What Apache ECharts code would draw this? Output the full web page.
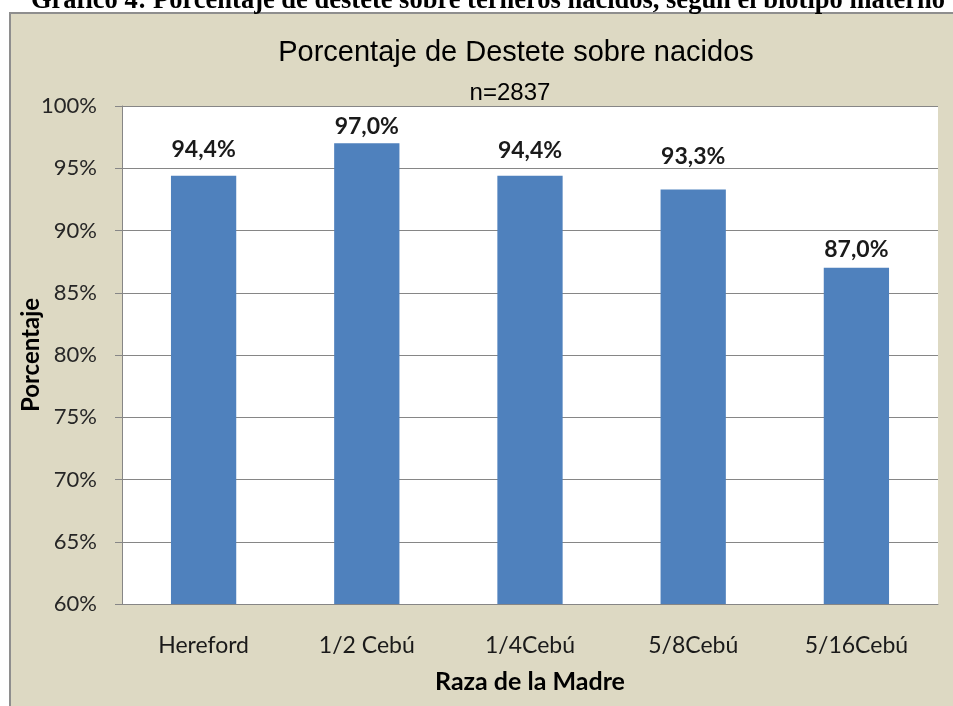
<!DOCTYPE html>
<html>
<head>
<meta charset="utf-8">
<script src="https://cdn.jsdelivr.net/npm/echarts@6/dist/echarts.min.js"></script>
<style>
html, body { margin: 0; padding: 0; background: #ffffff; }
#main { width: 953px; height: 706px; }
</style>
</head>
<body>
<div id="main"></div>
<script>
var categories = ['Hereford', '1/2 Cebú', '1/4Cebú', '5/8Cebú', '5/16Cebú'];
var destete = [94.4, 97.0, 94.4, 93.3, 87.0];
var yMin = 60, yMax = 100, yStep = 5;
var caption = 'Gráfico 4: Porcentaje de destete sobre terneros nacidos, según el biotipo materno';
var chartTitle = 'Porcentaje de Destete sobre nacidos';
var chartSubtitle = 'n=2837';

// labels were nudged by hand in the original, so keep their gaps per bar
var labelGap = [15, 5.5, 14, 21.5, 6.5];

var chart = echarts.init(document.getElementById('main'), null, {renderer: 'canvas'});

var barData = destete.map(function (v, i) {
  return {value: v, label: {distance: labelGap[i]}};
});

var option = {
  animation: false,
  backgroundColor: '#ffffff',
  graphic: [
    {
      type: 'rect', z: -10, silent: true,
      shape: {x: 10, y: 13, width: 980, height: 740},
      style: {fill: '#ddd9c3', stroke: '#8e8e8e', lineWidth: 2}
    },
    {
      type: 'text', z: 10, silent: true,
      x: 488, y: 1,
      style: {
        text: caption, fill: '#000000', align: 'center', verticalAlign: 'middle',
        font: 'bold 26.5px "Liberation Serif", "DejaVu Serif", serif'
      }
    },
    {
      type: 'text', z: 10, silent: true,
      x: 516, y: 53,
      style: {
        text: chartTitle, fill: '#000000', align: 'center', verticalAlign: 'middle',
        font: '29px "Liberation Sans", Arial, sans-serif'
      }
    },
    {
      type: 'text', z: 10, silent: true,
      x: 510, y: 93,
      style: {
        text: chartSubtitle, fill: '#000000', align: 'center', verticalAlign: 'middle',
        font: '24px "Liberation Sans", Arial, sans-serif'
      }
    }
  ],
  grid: {
    left: 122, right: 15, top: 106, bottom: 102,
    show: true, backgroundColor: '#ffffff', borderWidth: 0
  },
  xAxis: {
    type: 'category',
    data: categories,
    name: 'Raza de la Madre',
    nameLocation: 'middle',
    nameGap: 65,
    nameMoveOverlap: false,
    nameTextStyle: {fontFamily: 'Lato', fontWeight: 'bold', fontSize: 25, color: '#000000'},
    axisLine: {lineStyle: {color: '#868686', width: 1}},
    axisTick: {show: false},
    axisLabel: {fontFamily: 'Lato', fontSize: 23, color: '#1a1a1a', margin: 30}
  },
  yAxis: {
    type: 'value',
    min: yMin, max: yMax, interval: yStep,
    name: 'Porcentaje',
    nameLocation: 'middle',
    nameGap: 79,
    nameMoveOverlap: false,
    nameTextStyle: {fontFamily: 'Lato', fontWeight: 'bold', fontSize: 24, color: '#000000'},
    axisLine: {show: true, lineStyle: {color: '#868686', width: 1}},
    axisTick: {show: true, inside: false, length: 7, lineStyle: {color: '#868686'}},
    axisLabel: {
      fontFamily: 'Lato', fontSize: 22, color: '#262626', margin: 25,
      formatter: '{value}%'
    },
    splitLine: {show: true, lineStyle: {color: '#868686', width: 1}}
  },
  series: [
    {
      type: 'bar',
      data: barData,
      barWidth: '40%',
      itemStyle: {color: '#4f81bd'},
      label: {
        show: true,
        position: 'top',
        fontFamily: 'Lato',
        fontWeight: 'bold',
        fontSize: 23,
        color: '#1a1a1a',
        formatter: function (p) { return p.value.toFixed(1).replace('.', ',') + '%'; }
      }
    }
  ]
};
chart.setOption(option);
</script>
</body>
</html>
